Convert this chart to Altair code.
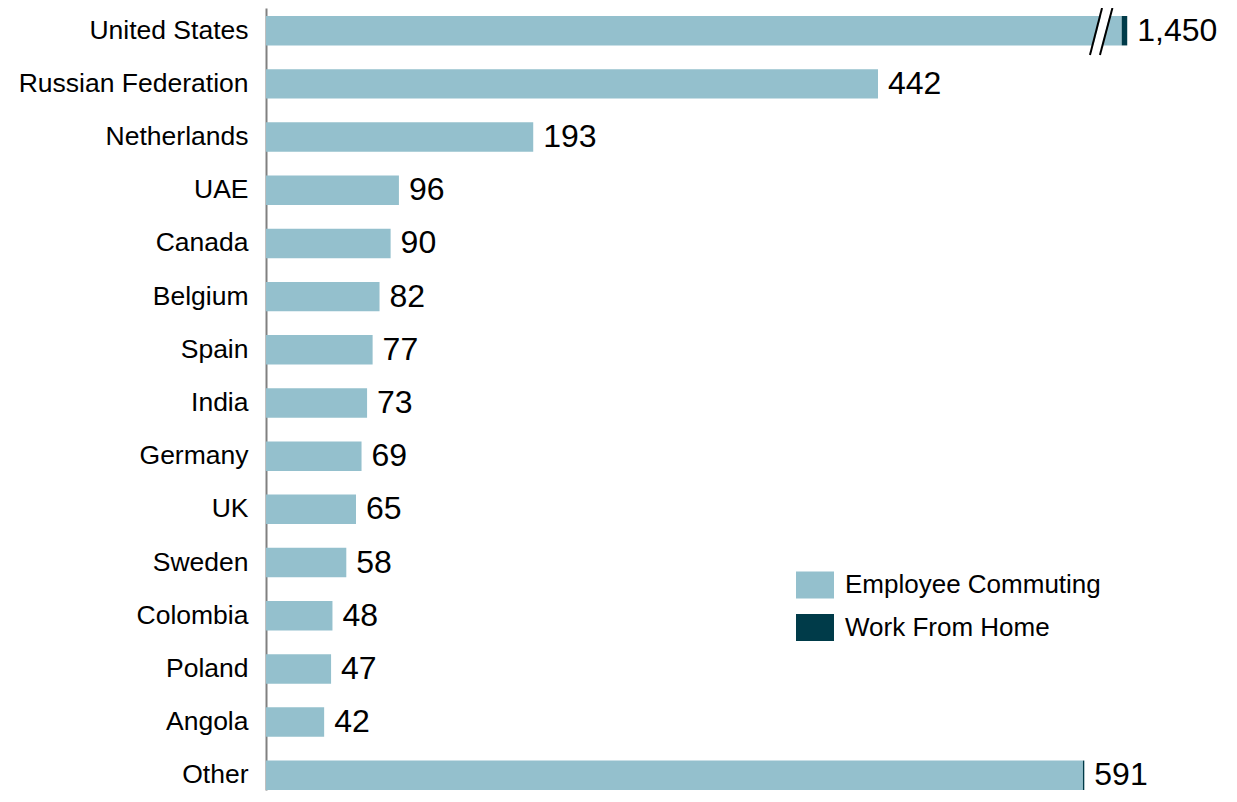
import altair as alt
import pandas as pd

# ---- data ----
countries = ["United States", "Russian Federation", "Netherlands", "UAE", "Canada",
             "Belgium", "Spain", "India", "Germany", "UK", "Sweden", "Colombia",
             "Poland", "Angola", "Other"]
commuting = [1446, 442, 193, 96, 90, 82, 77, 73, 69, 65, 58, 48, 47, 42, 590]
work_from_home = [4, 0, 0, 0, 0, 0, 0, 0, 0, 0, 0, 0, 0, 0, 1]
series_names = ["Employee Commuting", "Work From Home"]
series_colors = ["#94C0CD", "#003B49"]

# bars longer than this are drawn broken (axis break)
BREAK_CAP = 622
X_MAX = 650

# axis-break marks (in value units / row units)
break_white_x = [598.7]
break_white_x2 = [607.6]
break_black_x = [595.1, 602.3]
break_black_x2 = [603.8, 611.3]
break_y_bottom = 0.90
break_y_top = 0.0

FONT = "Liberation Sans, Arial"

# ---- build tables ----
rows = []
lab = []
for i, c in enumerate(countries):
    total = commuting[i] + work_from_home[i]
    if total > BREAK_CAP:
        c_disp = BREAK_CAP - work_from_home[i]
    else:
        c_disp = commuting[i]
    rows.append({"country": c, "series": series_names[0], "value": c_disp, "ord": 0})
    rows.append({"country": c, "series": series_names[1], "value": work_from_home[i], "ord": 1})
    lab.append({"country": c, "pos": c_disp + work_from_home[i], "total": total})
bars_df = pd.DataFrame(rows)
lab_df = pd.DataFrame(lab)

white_df = pd.DataFrame({"bx": break_white_x, "bx2": break_white_x2,
                         "by": [break_y_bottom] * len(break_white_x),
                         "by2": [break_y_top] * len(break_white_x)})
black_df = pd.DataFrame({"bx": break_black_x, "bx2": break_black_x2,
                         "by": [break_y_bottom] * len(break_black_x),
                         "by2": [break_y_top] * len(break_black_x)})

xscale = alt.Scale(domain=[0, X_MAX], nice=False, zero=True)

yenc = alt.Y("country:N", sort=countries,
             scale=alt.Scale(paddingInner=0.446, paddingOuter=0.075, align=1),
             axis=alt.Axis(title=None, ticks=False, labelPadding=18, labelFontSize=26.5,
                           labelFont=FONT, labelColor="black", domainColor="#808080",
                           domainWidth=2, grid=False, labelLimit=400))

bars = alt.Chart(bars_df).mark_bar().encode(
    y=yenc,
    x=alt.X("value:Q", stack="zero", scale=xscale, axis=None),
    color=alt.Color("series:N", scale=alt.Scale(domain=series_names, range=series_colors),
                    legend=alt.Legend(title=None, orient="none", legendX=530, legendY=558,
                                      symbolType="M-1,-0.71H1V0.71H-1Z", symbolSize=1444,
                                      symbolStrokeWidth=0, symbolOpacity=1,
                                      labelFontSize=26, labelFont=FONT, labelColor="black",
                                      labelOffset=11, rowPadding=9.5, padding=0, offset=0,
                                      labelLimit=400)),
    order=alt.Order("ord:Q"),
)

labels = alt.Chart(lab_df).mark_text(align="left", baseline="middle", dx=10,
                                     fontSize=32, font=FONT, color="black").encode(
    y=alt.Y("country:N", sort=countries),
    x=alt.X("pos:Q", scale=xscale, axis=None),
    text=alt.Text("total:Q", format=","),
)

inner = alt.layer(bars, labels)

yq = alt.Scale(domain=[0, len(countries)], reverse=True, nice=False, zero=False)
white = alt.Chart(white_df).mark_rule(color="white", strokeWidth=8).encode(
    x=alt.X("bx:Q", scale=xscale, axis=None), x2="bx2:Q",
    y=alt.Y("by:Q", scale=yq, axis=None), y2="by2:Q",
)
black = alt.Chart(black_df).mark_rule(color="black", strokeWidth=2).encode(
    x=alt.X("bx:Q", scale=xscale, axis=None), x2="bx2:Q",
    y=alt.Y("by:Q", scale=yq, axis=None), y2="by2:Q",
)
breaks = alt.layer(white, black)

chart = alt.layer(inner, breaks).resolve_scale(y="independent").properties(
    width=900, height=782,
    autosize=alt.AutoSizeParams(type="none"),
    padding={"left": 258, "top": 0, "right": 60, "bottom": 4},
    background="white",
).configure_view(stroke=None)

chart.save("out.html", embed_options={"renderer": "svg", "actions": False})
